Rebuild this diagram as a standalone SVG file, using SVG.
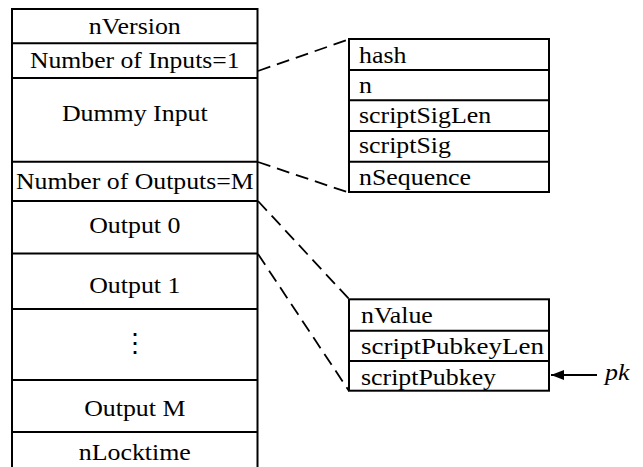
<svg xmlns="http://www.w3.org/2000/svg" width="643" height="467" viewBox="0 0 643 467">
<defs>
<style>
.box{fill:#fff;stroke:#000;stroke-width:2}
.sep{stroke:#000;stroke-width:2;fill:none}
.t{font-family:"Liberation Serif","Times New Roman",serif;font-size:22.5px;fill:#000}
.m{text-anchor:middle}
.dash{stroke:#000;stroke-width:1.8;fill:none;stroke-dasharray:13 7}
.arr{stroke:#000;stroke-width:2;fill:none}
</style>
<marker id="ah" markerWidth="14" markerHeight="12" refX="13" refY="6" orient="auto" markerUnits="userSpaceOnUse">
<path d="M0,1 L13,6 L0,11 Z" fill="#000"/>
</marker>
</defs>
<rect width="643" height="467" fill="#fff"/>
<g id="transaction">
<rect class="box" x="12" y="9" width="245.5" height="462"/>
<path class="sep" d="M12,43.3H257.5M12,78H257.5M12,161.7H257.5M12,201H257.5M12,253.5H257.5M12,309H257.5M12,380H257.5M12,432H257.5"/>
<text class="t m" transform="translate(134.8,34.3) scale(1.15,1)">nVersion</text>
<text class="t m" transform="translate(134.8,68) scale(1.14,1)">Number of Inputs=1</text>
<text class="t m" transform="translate(134.8,120.7) scale(1.15,1)">Dummy Input</text>
<text class="t m" transform="translate(134.8,189.3) scale(1.145,1)">Number of Outputs=M</text>
<text class="t m" transform="translate(134.8,232.7) scale(1.15,1)">Output 0</text>
<text class="t m" transform="translate(134.8,293.3) scale(1.15,1)">Output 1</text>
<text class="m" x="135" y="352" style="font-family:'DejaVu Serif',serif;font-size:26px">⋮</text>
<text class="t m" transform="translate(134.8,415.7) scale(1.15,1)">Output M</text>
<text class="t m" transform="translate(134.8,460) scale(1.15,1)">nLocktime</text>
</g>
<g id="input">
<rect class="box" x="349" y="39" width="200" height="153"/>
<path class="sep" d="M349,70H549M349,100.3H549M349,131H549M349,161.7H549"/>
<text class="t" transform="translate(359,62.7) scale(1.15,1)">hash</text>
<text class="t" transform="translate(359,92.7) scale(1.15,1)">n</text>
<text class="t" transform="translate(359,123.3) scale(1.15,1)">scriptSigLen</text>
<text class="t" transform="translate(359,153.3) scale(1.15,1)">scriptSig</text>
<text class="t" transform="translate(359,185) scale(1.15,1)">nSequence</text>
</g>
<g id="output">
<rect class="box" x="349" y="299.3" width="200" height="91.4"/>
<path class="sep" d="M349,330.7H549M349,361H549"/>
<text class="t" transform="translate(361,323.3) scale(1.15,1)">nValue</text>
<text class="t" transform="translate(361,354) scale(1.2,1)">scriptPubkeyLen</text>
<text class="t" transform="translate(361,385) scale(1.15,1)">scriptPubkey</text>
</g>
<g id="pk">
<text class="t" transform="translate(605,380) scale(1.15,1)" style="font-style:italic">pk</text>
</g>
<g id="connectors">
<path class="dash" d="M258,71L347,40"/>
<path class="dash" d="M258,162L347,192"/>
<path class="dash" d="M258,201L349,299"/>
<path class="dash" d="M258,254L349,391"/>
<path class="arr" d="M597,375H551" marker-end="url(#ah)"/>
</g>
</svg>
